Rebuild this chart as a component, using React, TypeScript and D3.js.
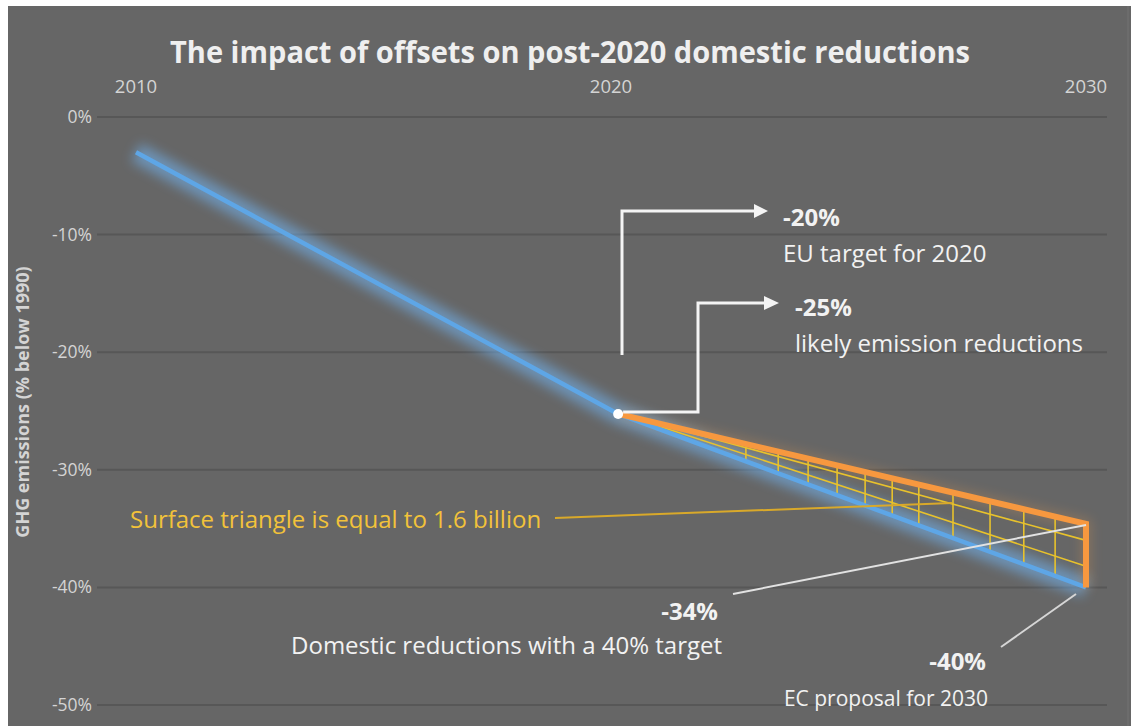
import React, { useEffect, useRef } from 'react';
import * as d3 from 'd3';

// chart values
const xTickYears = [2010, 2020, 2030];
const yTickValues = [0, -10, -20, -30, -40, -50];
const domesticYears = [2010, 2020.15, 2030];
const domesticValues = [-3, -25.25, -40];
const offsetYears = [2020.15, 2030, 2030];
const offsetValues = [-25.25, -34.6, -40];
const hatchYears = [2022.84, 2023.52, 2024.15, 2024.76, 2025.35, 2025.92, 2026.48, 2027.2, 2027.98, 2028.69, 2029.35];
const fanValues2030 = [-36, -38.2];

export default function App() {
  const svgRef = useRef<SVGSVGElement>(null);
  const width = 1131;
  const height = 726;

  useEffect(() => {
    if (!svgRef.current) return;
    const svg = d3.select(svgRef.current);
    svg.selectAll('*').remove();

    const font = "'Open Sans', 'Noto Sans', sans-serif";
    const x = d3.scaleLinear().domain([2010, 2030]).range([136, 1086]);
    const y = d3.scaleLinear().domain([0, -50]).range([117, 705]);

    const defs = svg.append('defs');
    defs.append('filter').attr('id', 'glow')
      .attr('x', '-20%').attr('y', '-20%').attr('width', '140%').attr('height', '140%')
      .append('feGaussianBlur').attr('stdDeviation', 6);

    // page + panel
    svg.append('rect').attr('width', width).attr('height', height).attr('fill', '#fff');
    svg.append('rect').attr('x', 8).attr('y', 6).attr('width', width - 8).attr('height', height - 6).attr('fill', '#666666');
    svg.append('line').attr('x1', 1128).attr('x2', 1128).attr('y1', 6).attr('y2', height)
      .attr('stroke', '#727272').attr('stroke-width', 1);

    // title
    svg.append('text')
      .attr('x', 570).attr('y', 63)
      .attr('text-anchor', 'middle')
      .attr('font-family', font).attr('font-weight', 700).attr('font-size', 31)
      .attr('textLength', 800).attr('lengthAdjust', 'spacingAndGlyphs')
      .attr('fill', '#efefef')
      .text('The impact of offsets on post-2020 domestic reductions');

    // gridlines
    svg.append('g').selectAll('line').data(yTickValues).join('line')
      .attr('x1', 97).attr('x2', 1107)
      .attr('y1', d => y(d)).attr('y2', d => y(d))
      .attr('stroke', '#575757').attr('stroke-width', 2);

    // y tick labels
    svg.append('g').selectAll('text').data(yTickValues).join('text')
      .attr('x', 92).attr('y', d => y(d) + 6)
      .attr('text-anchor', 'end')
      .attr('font-family', font).attr('font-size', 17.5)
      .attr('fill', '#d4d4d4')
      .text(d => `${d}%`);

    // x tick labels (top)
    svg.append('g').selectAll('text').data(xTickYears).join('text')
      .attr('x', d => x(d)).attr('y', 93)
      .attr('text-anchor', 'middle')
      .attr('font-family', font).attr('font-size', 18.5)
      .attr('fill', '#d4d4d4')
      .text(d => String(d));

    // y axis title
    svg.append('text')
      .attr('transform', 'translate(29,402) rotate(-90)')
      .attr('text-anchor', 'middle')
      .attr('font-family', font).attr('font-weight', 700).attr('font-size', 18)
      .attr('fill', '#d4d4d4')
      .text('GHG emissions (% below 1990)');

    const domestic = domesticYears.map((t, i) => [x(t), y(domesticValues[i])] as [number, number]);
    const offset = offsetYears.map((t, i) => [x(t), y(offsetValues[i])] as [number, number]);
    const line = d3.line();

    // glow behind lines
    svg.append('path').attr('d', line(domestic))
      .attr('fill', 'none').attr('stroke', '#72b6f5').attr('stroke-width', 20)
      .attr('stroke-linejoin', 'round').attr('opacity', 0.55).attr('filter', 'url(#glow)');
    svg.append('path').attr('d', line(offset))
      .attr('fill', 'none').attr('stroke', '#f5a04a').attr('stroke-width', 10)
      .attr('opacity', 0.25).attr('filter', 'url(#glow)');

    // hatch inside the triangle
    const [apexX, apexY] = offset[0];
    const topEnd = offset[1];
    const hatch = svg.append('g').attr('stroke', '#e8c22c').attr('stroke-width', 1.6).attr('fill', 'none');
    hatchYears.forEach(t => {
      const px = x(t);
      const f = (px - apexX) / (topEnd[0] - apexX);
      const top = apexY + f * (topEnd[1] - apexY);
      const blueF = (px - domestic[1][0]) / (domestic[2][0] - domestic[1][0]);
      const bottom = domestic[1][1] + blueF * (domestic[2][1] - domestic[1][1]);
      hatch.append('line').attr('x1', px).attr('x2', px).attr('y1', top + 2).attr('y2', bottom - 1);
    });
    fanValues2030.forEach(v => {
      hatch.append('line').attr('x1', apexX + 4).attr('y1', apexY)
        .attr('x2', x(2030)).attr('y2', y(v));
    });

    // domestic (blue) and offset (orange) lines
    svg.append('path').attr('d', line(domestic))
      .attr('fill', 'none').attr('stroke', '#5ea6e6').attr('stroke-width', 4.5)
      .attr('stroke-linejoin', 'round');
    svg.append('path').attr('d', line(offset))
      .attr('fill', 'none').attr('stroke', '#f7983f').attr('stroke-width', 6)
      .attr('stroke-linejoin', 'miter');

    // point at 2020
    svg.append('circle').attr('cx', apexX).attr('cy', apexY).attr('r', 5).attr('fill', '#fff');

    // arrows
    const arrow = svg.append('g');
    arrow.append('path').attr('d', 'M622,355 V211 H756')
      .attr('fill', 'none').attr('stroke', '#f4f4f4').attr('stroke-width', 3);
    arrow.append('polygon').attr('points', '754,204 768,211 754,218').attr('fill', '#f4f4f4');
    arrow.append('path').attr('d', `M${apexX + 5},${apexY - 2} H698 V303 H766`)
      .attr('fill', 'none').attr('stroke', '#f4f4f4').attr('stroke-width', 3);
    arrow.append('polygon').attr('points', '764,296 779,303 764,310').attr('fill', '#f4f4f4');

    // leader lines
    svg.append('line').attr('x1', 555).attr('y1', 518).attr('x2', 952).attr('y2', 503)
      .attr('stroke', '#d9a92a').attr('stroke-width', 2);
    svg.append('line').attr('x1', 733).attr('y1', 594).attr('x2', topEnd[0]).attr('y2', topEnd[1] + 1)
      .attr('stroke', '#e2e2e2').attr('stroke-width', 2);
    svg.append('line').attr('x1', 1001).attr('y1', 647).attr('x2', 1076).attr('y2', 594)
      .attr('stroke', '#d6d6d6').attr('stroke-width', 2);

    // annotation texts
    const label = (tx: number, ty: number, s: string, opts: { bold?: boolean; anchor?: string; fill?: string; size?: number } = {}) =>
      svg.append('text')
        .attr('x', tx).attr('y', ty)
        .attr('text-anchor', opts.anchor || 'start')
        .attr('font-family', font)
        .attr('font-weight', opts.bold ? 700 : 400)
        .attr('font-size', opts.size || 24)
        .attr('fill', opts.fill || '#f2f2f2')
        .text(s);

    label(783, 226, '-20%', { bold: true });
    label(783, 262, 'EU target for 2020');
    label(795, 316, '-25%', { bold: true });
    label(795, 352, 'likely emission reductions');
    label(130, 528, 'Surface triangle is equal to 1.6 billion', { fill: '#f2c23a' });
    label(718, 620, '-34%', { bold: true, anchor: 'end' });
    label(722, 654, 'Domestic reductions with a 40% target', { anchor: 'end' });
    label(986, 670, '-40%', { bold: true, anchor: 'end' });
    label(988, 706, 'EC proposal for 2030', { anchor: 'end', size: 21 });
  }, []);

  return (
    <div style={{ position: 'absolute', left: 0, top: 0, width, height }}>
      <svg ref={svgRef} width={width} height={height} style={{ display: 'block' }} />
    </div>
  );
}
